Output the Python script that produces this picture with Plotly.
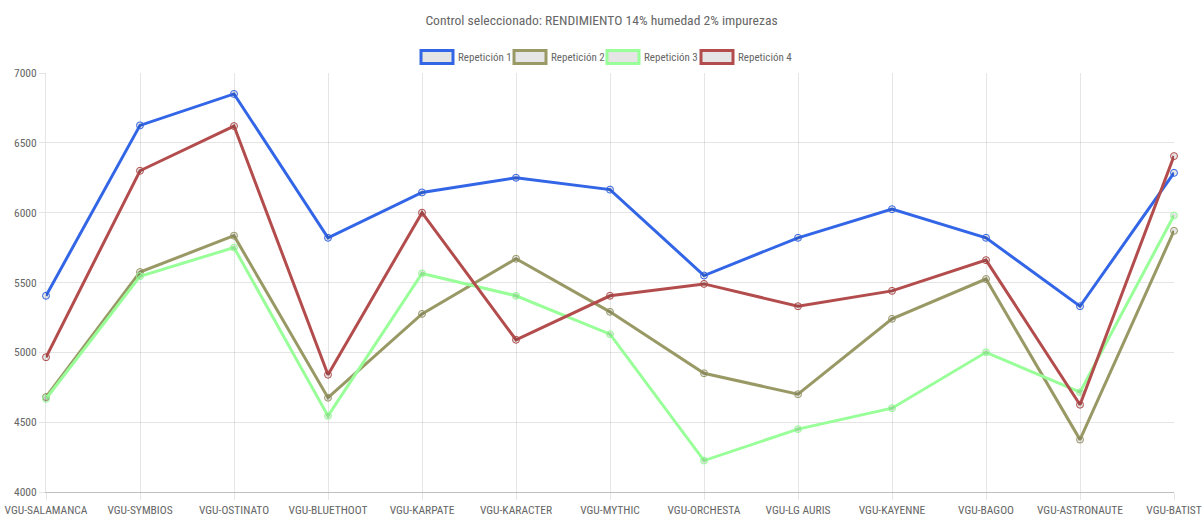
import plotly.graph_objects as go

categories = ["VGU-SALAMANCA", "VGU-SYMBIOS", "VGU-OSTINATO", "VGU-BLUETHOOT", "VGU-KARPATE",
              "VGU-KARACTER", "VGU-MYTHIC", "VGU-ORCHESTA", "VGU-LG AURIS", "VGU-KAYENNE",
              "VGU-BAGOO", "VGU-ASTRONAUTE", "VGU-BATIST"]
rep1 = [5405, 6625, 6850, 5820, 6145, 6250, 6165, 5550, 5820, 6025, 5820, 5330, 6285]
rep2 = [4680, 5575, 5835, 4675, 5275, 5670, 5290, 4850, 4700, 5240, 5525, 4375, 5870]
rep3 = [4667, 5545, 5750, 4545, 5565, 5405, 5130, 4225, 4450, 4600, 5000, 4715, 5980]
rep4 = [4965, 6300, 6620, 4840, 6000, 5090, 5405, 5490, 5330, 5440, 5660, 4625, 6405]
series_names = ["Repetición 1", "Repetición 2", "Repetición 3", "Repetición 4"]
series_colors = ["#3366E6", "#999966", "#99FF99", "#B34D4D"]
title_text = "Control seleccionado: RENDIMIENTO 14% humedad 2% impurezas"

FONT = "Roboto Condensed, Liberation Sans Narrow, Arial Narrow, Roboto, sans-serif"
W, H = 1203, 516
L, R, T, B = 46, 29, 73, 24

fig = go.Figure()
for name, vals, col in zip(series_names, [rep1, rep2, rep3, rep4], series_colors):
    fig.add_trace(go.Scatter(
        x=categories, y=vals, mode="lines+markers", name=name,
        line=dict(color=col, width=3),
        marker=dict(size=7, color="rgba(0,0,0,0.1)", line=dict(color=col, width=1)),
        cliponaxis=False, showlegend=False))

# custom legend (Chart.js style boxes)
pw, ph = W - L - R, H - T - B
def px2x(px):
    return (px - L) / pw
def py2y(py):
    return (H - B - py) / ph

box_lefts = [421, 514, 607, 701]
box_w, box_h, ly = 32, 13, 57
shapes = []
annotations = []
for bl, name, col in zip(box_lefts, series_names, series_colors):
    shapes.append(dict(type="rect", xref="paper", yref="paper",
                       x0=px2x(bl), x1=px2x(bl + box_w),
                       y0=py2y(ly + box_h / 2), y1=py2y(ly - box_h / 2),
                       line=dict(color=col, width=3), fillcolor="rgba(0,0,0,0.1)"))
    annotations.append(dict(text=name, xref="paper", yref="paper",
                            x=px2x(bl + box_w + 3), y=py2y(ly), xanchor="left", yanchor="middle",
                            showarrow=False, font=dict(size=11, color="#666666", family=FONT)))

fig.update_layout(
    width=W, height=H,
    margin=dict(l=L, r=R, t=T, b=B),
    paper_bgcolor="white", plot_bgcolor="white",
    font=dict(family=FONT, size=11.5, color="#666666"),
    title=dict(text=title_text, x=0.5, xref="container", xanchor="center",
               y=1 - 20 / H, yanchor="middle", font=dict(size=13.6, color="#666666", family=FONT)),
    shapes=shapes, annotations=annotations,
    xaxis=dict(type="category", range=[0, len(categories) - 1], showgrid=True, automargin=False,
               gridcolor="rgba(0,0,0,0.1)", gridwidth=1, ticks="outside", ticklen=7,
               tickcolor="rgba(0,0,0,0.1)", showline=True, linecolor="rgba(0,0,0,0.25)",
               linewidth=1, zeroline=False, tickfont=dict(size=11.5, color="#666666")),
    yaxis=dict(range=[4000, 7000], dtick=500, showgrid=True, automargin=False,
               gridcolor="rgba(0,0,0,0.1)", gridwidth=1, ticks="outside", ticklen=6,
               tickcolor="rgba(0,0,0,0.1)", showline=True, linecolor="rgba(0,0,0,0.1)",
               linewidth=1, zeroline=False, tickfont=dict(size=11.5, color="#666666")),
)
fig.write_html("out.html", config={"displayModeBar": False},
               post_script="document.body.style.margin='0';document.body.style.overflow='hidden';")
